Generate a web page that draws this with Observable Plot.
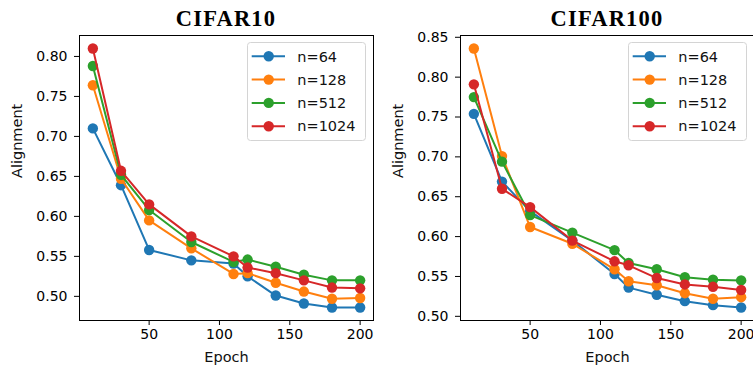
<!DOCTYPE html>
<html><head><meta charset="utf-8">
<script src="https://cdn.jsdelivr.net/npm/d3@7"></script>
<script src="https://cdn.jsdelivr.net/npm/@observablehq/plot@0.6"></script>
<style>
html,body{margin:0;padding:0;background:#fff;}
body{width:753px;height:366px;overflow:hidden;position:relative;font-family:"DejaVu Sans",sans-serif;}
.panel{position:absolute;top:0;width:380px;height:366px;}
.panel svg.plot{position:absolute;left:0;top:0;}
.legend{position:absolute;}
</style></head><body>
<div id="p1" class="panel" style="left:0px"></div>
<div id="p2" class="panel" style="left:381px"></div>
<script>
const epochs = [10, 30, 50, 80, 110, 120, 140, 160, 180, 200];
const seriesNames = ["n=64", "n=128", "n=512", "n=1024"];
const colors = ["#1f77b4", "#ff7f0e", "#2ca02c", "#d62728"];
const xTicks = [50, 100, 150, 200];

const cifar10_n64   = [0.710, 0.639, 0.558, 0.545, 0.541, 0.525, 0.501, 0.491, 0.486, 0.486];
const cifar10_n128  = [0.764, 0.647, 0.595, 0.560, 0.528, 0.529, 0.517, 0.506, 0.497, 0.498];
const cifar10_n512  = [0.788, 0.652, 0.608, 0.568, 0.543, 0.546, 0.537, 0.527, 0.520, 0.520];
const cifar10_n1024 = [0.810, 0.657, 0.615, 0.575, 0.550, 0.536, 0.529, 0.520, 0.511, 0.510];
const cifar10_yTicks = [0.50, 0.55, 0.60, 0.65, 0.70, 0.75, 0.80];

const cifar100_n64   = [0.754, 0.669, 0.632, 0.595, 0.553, 0.536, 0.527, 0.519, 0.514, 0.511];
const cifar100_n128  = [0.836, 0.701, 0.612, 0.591, 0.559, 0.544, 0.539, 0.529, 0.522, 0.524];
const cifar100_n512  = [0.775, 0.694, 0.627, 0.605, 0.583, 0.567, 0.559, 0.549, 0.546, 0.545];
const cifar100_n1024 = [0.791, 0.660, 0.637, 0.595, 0.569, 0.564, 0.548, 0.540, 0.537, 0.533];
const cifar100_yTicks = [0.50, 0.55, 0.60, 0.65, 0.70, 0.75, 0.80, 0.85];

function makeRows(arrays) {
  const rows = [];
  arrays.forEach((arr, si) => arr.forEach((v, i) => rows.push({epoch: epochs[i], value: v, series: seriesNames[si]})));
  return rows;
}

function panel(el, title, arrays, yTicks) {
  const rows = makeRows(arrays);
  const [ymin, ymax] = d3.extent(rows, d => d.value);
  const ym = (ymax - ymin) * 0.05;
  const [xmin, xmax] = d3.extent(epochs);
  const xm = (xmax - xmin) * 0.05;
  const marks = [];
  seriesNames.forEach(s => {
    const sub = rows.filter(d => d.series === s);
    marks.push(Plot.line(sub, {x: "epoch", y: "value", stroke: "series", strokeWidth: 2}));
    marks.push(Plot.dot(sub, {x: "epoch", y: "value", fill: "series", r: 5.2}));
  });
  const chart = Plot.plot({
    width: 380, height: 366,
    marginLeft: 79, marginRight: 7, marginTop: 35, marginBottom: 46,
    style: {fontFamily: "DejaVu Sans", fontSize: "14px", color: "black", background: "white"},
    x: {domain: [xmin - xm, xmax + xm]},
    y: {domain: [ymin - ym, ymax + ym]},
    color: {domain: seriesNames, range: colors},
    marks: [
      Plot.axisX({ticks: xTicks, tickSize: 5, tickPadding: 4, fontSize: 14, label: null, stroke: "black", fill: "black"}),
      Plot.axisY({ticks: yTicks, tickSize: 5, tickPadding: 7, fontSize: 14, label: null, tickFormat: d3.format(".2f"), stroke: "black", fill: "black"}),
      ...marks,
      Plot.frame({stroke: "black", strokeWidth: 1}),
      Plot.text(["Epoch"], {text: d => d, frameAnchor: "bottom", dy: 41, fontSize: 14.5, fill: "#111"}),
      Plot.text(["Alignment"], {text: d => d, frameAnchor: "left", dx: -62, rotate: -90, fontSize: 14.5, fill: "#111"})
    ]
  });
  chart.classList.add("plot");
  el.appendChild(chart);
  d3.select(chart).append("text")
    .attr("x", 226).attr("y", 26).attr("text-anchor", "middle")
    .attr("font-family", "Liberation Serif").attr("font-weight", "bold")
    .attr("font-size", 22.5).attr("letter-spacing", 1.2).attr("fill", "black")
    .text(title);

  // legend
  const lg = d3.select(el).append("svg").attr("class", "legend")
    .style("left", "247px").style("top", "42px")
    .attr("width", 121).attr("height", 101);
  lg.append("rect").attr("x", 0.5).attr("y", 0.5).attr("width", 118).attr("height", 98)
    .attr("rx", 3).attr("fill", "rgba(255,255,255,0.8)").attr("stroke", "#d4d4d4");
  seriesNames.forEach((s, i) => {
    const cy = 14.3 + i * 23.3;
    const g = lg.append("g");
    g.append("line").attr("x1", 4.7).attr("x2", 38).attr("y1", cy).attr("y2", cy)
      .attr("stroke", colors[i]).attr("stroke-width", 2);
    g.append("circle").attr("cx", 21.7).attr("cy", cy).attr("r", 5.2).attr("fill", colors[i]);
    g.append("text").attr("x", 50.3).attr("y", cy + 5.2).text(s)
      .attr("font-family", "DejaVu Sans").attr("font-size", 14.5).attr("fill", "#111");
  });
}

panel(document.getElementById("p1"), "CIFAR10", [cifar10_n64, cifar10_n128, cifar10_n512, cifar10_n1024], cifar10_yTicks);
panel(document.getElementById("p2"), "CIFAR100", [cifar100_n64, cifar100_n128, cifar100_n512, cifar100_n1024], cifar100_yTicks);
</script>
</body></html>
